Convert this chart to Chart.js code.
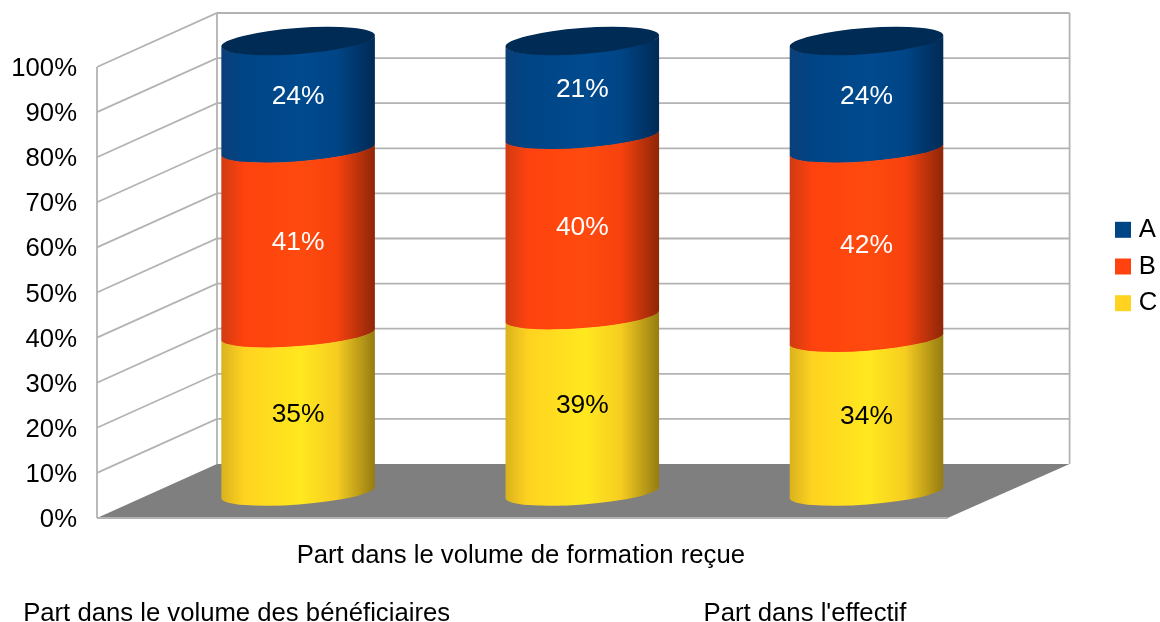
<!DOCTYPE html>
<html>
<head>
<meta charset="utf-8">
<script src="https://cdn.jsdelivr.net/npm/chart.js@4/dist/chart.umd.min.js"></script>
<style>
    html, body { margin: 0; padding: 0; background: #fff; }
    canvas { display: block; }
</style>
</head>
<body>
<canvas id="chart" width="1160" height="622"></canvas>
<script>
// ==============================
// Data
// ==============================
const categories = [
    'Part dans le volume des bénéficiaires',
    'Part dans le volume de formation reçue',
    "Part dans l'effectif"
];
const valuesA = [24, 21, 24];
const valuesB = [41, 40, 42];
const valuesC = [35, 39, 34];

const colorA = '#004586';
const colorB = '#ff420e';
const colorC = '#ffd320';

// gradient stops across a cylinder, left to right
const shades = {
    [colorA]: ['#0b3f78', '#004586', '#004a8e', '#004586', '#002a55'],
    [colorB]: ['#cf3b12', '#ff420e', '#ff4a0e', '#f8420e', '#8e2608'],
    [colorC]: ['#d9b21e', '#ffd320', '#ffe81f', '#f6cd20', '#957b12']
};

// ==============================
// Fake 3D settings
// ==============================
const fontName = '"Liberation Sans", Arial, sans-serif';
const fontSize = 25.7;
const capRy = 12;
const capTilt = -4.3 * Math.PI / 180;
const frontDy = 26;
const backDy = -28;
const lineColor = '#b3b3b3';

// cylinders instead of flat bars
Chart.BarElement.prototype.draw = function (ctx) {
    const { x, y, base, width } = this;
    const r = width / 2;
    const stops = shades[this.options.backgroundColor];
    const grad = ctx.createLinearGradient(x - r, 0, x + r, 0);
    [0, 0.15, 0.52, 0.75, 1].forEach((pos, i) => grad.addColorStop(pos, stops[i]));

    ctx.save();
    ctx.fillStyle = grad;
    ctx.beginPath();
    ctx.ellipse(x, base + 0.5, r, capRy, capTilt, 0, Math.PI);
    ctx.ellipse(x, y, r, capRy, capTilt, Math.PI, 0, true);
    ctx.closePath();
    ctx.fill();
    ctx.restore();
};

// ==============================
// Walls, floor, caps, value labels
// ==============================
const framePlugin = {
    id: 'frame',
    afterLayout(chart) {
        const legend = chart.legend;
        const h = legend.height;
        legend.left = 1109;
        legend.right = 1160;
        legend.top = 266.5 - h / 2;
        legend.bottom = 266.5 + h / 2;
    },
    beforeDatasetsDraw(chart) {
        const { ctx, chartArea, scales } = chart;
        const fl = chartArea.left - 59;
        const fr = chartArea.right - 61;
        const bl = chartArea.left + 61;
        const br = chartArea.right + 61;
        const zero = scales.y.getPixelForValue(0);
        const top = scales.y.getPixelForValue(100);

        ctx.save();
        ctx.strokeStyle = lineColor;
        ctx.lineWidth = 1.8;

        // floor
        ctx.fillStyle = '#7f7f7f';
        ctx.beginPath();
        ctx.moveTo(fl, zero + frontDy);
        ctx.lineTo(bl, zero + backDy);
        ctx.lineTo(br, zero + backDy);
        ctx.lineTo(fr, zero + frontDy);
        ctx.closePath();
        ctx.fill();

        // grid lines on side and back wall
        ctx.beginPath();
        scales.y.ticks.forEach((tick) => {
            const py = scales.y.getPixelForValue(tick.value);
            if (tick.value === 0) {
                ctx.moveTo(fl, py + frontDy);
                ctx.lineTo(fr, py + frontDy);
                return;
            }
            ctx.moveTo(fl, py + frontDy);
            ctx.lineTo(bl, py + backDy);
            ctx.lineTo(br, py + backDy);
        });
        ctx.moveTo(fl, zero + frontDy);
        ctx.lineTo(fl, top + frontDy);
        ctx.moveTo(bl, zero + backDy);
        ctx.lineTo(bl, top + backDy);
        ctx.moveTo(br, zero + backDy);
        ctx.lineTo(br, top + backDy);
        ctx.stroke();
        ctx.restore();
    },
    afterDatasetsDraw(chart) {
        const { ctx } = chart;
        const lastIdx = chart.data.datasets.length - 1;

        ctx.save();
        // dark top of each cylinder
        ctx.fillStyle = '#002b54';
        chart.getDatasetMeta(lastIdx).data.forEach((bar) => {
            ctx.beginPath();
            ctx.ellipse(bar.x, bar.y, bar.width / 2, capRy + 1, capTilt, 0, Math.PI * 2);
            ctx.fill();
        });

        // value labels
        ctx.font = '26.4px ' + fontName;
        ctx.textAlign = 'center';
        ctx.textBaseline = 'middle';
        chart.data.datasets.forEach((ds, i) => {
            ctx.fillStyle = ds.labelColor;
            chart.getDatasetMeta(i).data.forEach((bar, j) => {
                ctx.fillText(ds.data[j] + '%', bar.x, (bar.y + bar.base) / 2 + 1.5);
            });
        });
        ctx.restore();
    }
};

// ==============================
// Chart
// ==============================
new Chart(document.getElementById('chart').getContext('2d'), {
    type: 'bar',
    data: {
        labels: categories,
        datasets: [
            { label: 'C', data: valuesC, backgroundColor: colorC, labelColor: '#000' },
            { label: 'B', data: valuesB, backgroundColor: colorB, labelColor: '#fff' },
            { label: 'A', data: valuesA, backgroundColor: colorA, labelColor: '#fff' }
        ]
    },
    options: {
        responsive: false,
        animation: false,
        layout: { padding: { top: 41, right: 93, left: 0, bottom: 0 } },
        datasets: { bar: { barThickness: 154, categoryPercentage: 1, barPercentage: 1, clip: false } },
        plugins: {
            tooltip: { enabled: false },
            legend: {
                position: 'right',
                reverse: true,
                labels: {
                    color: '#000',
                    font: { family: fontName, size: fontSize },
                    usePointStyle: true,
                    pointStyle: 'rect',
                    boxWidth: 6,
                    boxHeight: 16,
                    padding: 11
                }
            }
        },
        scales: {
            x: {
                stacked: true,
                grid: { display: false, drawTicks: false },
                border: { display: false },
                afterFit(scale) { scale.height = 130; },
                ticks: {
                    color: '#000',
                    font: { family: fontName, size: fontSize, lineHeight: 58 / fontSize },
                    padding: 35,
                    labelOffset: -61.5,
                    autoSkip: false,
                    maxRotation: 0,
                    minRotation: 0,
                    callback(value, i) {
                        // staggered rows like the original
                        return i % 2 === 0 ? ['', categories[i]] : [categories[i], ''];
                    }
                }
            },
            y: {
                stacked: true,
                min: 0,
                max: 100,
                grid: { display: false, drawTicks: false },
                border: { display: false },
                afterFit(scale) {
                    scale.width = 156;
                    scale.paddingTop = 0;
                    scale.paddingBottom = 0;
                },
                ticks: {
                    color: '#000',
                    font: { family: fontName, size: fontSize },
                    stepSize: 10,
                    padding: 79,
                    labelOffset: frontDy + 2,
                    callback: (value) => value + '%'
                }
            }
        }
    },
    plugins: [framePlugin]
});
</script>
</body>
</html>
